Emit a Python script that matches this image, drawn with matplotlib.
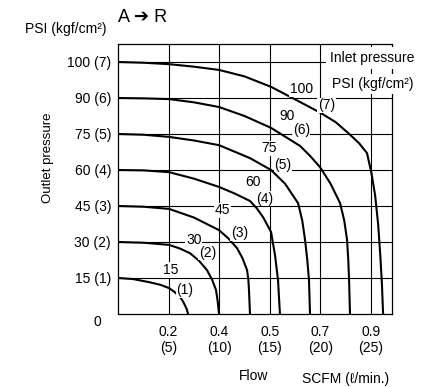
import matplotlib
matplotlib.use("Agg")
import matplotlib.pyplot as plt

plt.rcParams['font.family'] = ['Liberation Sans', 'DejaVu Sans']

# flow in l/min, outlet pressure in kgf/cm2
flow_1 = [0, 1.5, 3.16, 4.2, 5.04, 5.6, 6.13, 6.4, 6.6, 6.8, 6.92]
press_1 = [1.0, 0.97, 0.88, 0.81, 0.72, 0.61, 0.47, 0.36, 0.25, 0.13, 0.0]

flow_2 = [0, 2.5, 5.04, 6.1, 7.11, 8.0, 8.79, 9.3, 9.68, 9.85, 9.98]
press_2 = [2.0, 1.98, 1.92, 1.82, 1.69, 1.48, 1.22, 0.95, 0.67, 0.35, 0.0]

flow_3 = [0, 2.5, 5.04, 7.5, 9.98, 10.9, 11.76, 12.3, 12.75, 12.88, 12.94, 13.04]
press_3 = [3.0, 2.98, 2.92, 2.68, 2.33, 2.1, 1.83, 1.55, 1.22, 0.95, 0.67, 0.0]

flow_4 = [0, 2.5, 5.04, 7.5, 9.98, 11.5, 13.04, 13.7, 14.33, 15.12, 15.51, 15.81, 16.0]
press_4 = [4.0, 3.99, 3.94, 3.76, 3.53, 3.35, 3.14, 2.94, 2.69, 2.28, 1.64, 0.94, 0.0]

flow_5 = [0, 2.5, 5.04, 7.5, 9.98, 13.04, 15.12, 16.5, 17.79, 18.2, 18.48, 18.7, 18.87, 18.97]
press_5 = [5.0, 4.98, 4.92, 4.82, 4.69, 4.33, 4.0, 3.62, 3.08, 2.6, 2.06, 1.5, 0.94, 0.0]

flow_6 = [0, 2.5, 5.04, 7.5, 9.98, 12.5, 15.12, 17.98, 18.95, 19.96, 21.0, 21.94, 22.35, 22.63, 22.75, 22.83, 22.92]
press_6 = [6.0, 5.99, 5.97, 5.88, 5.75, 5.5, 5.17, 4.67, 4.4, 4.08, 3.62, 3.08, 2.6, 2.06, 1.5, 0.94, 0.0]

flow_7 = [0, 2.5, 5.04, 7.5, 9.98, 12.5, 15.12, 17.98, 20.06, 21.5, 22.73, 23.8, 24.6,
          25.05, 25.4, 25.7, 25.92, 26.08, 26.19]
press_7 = [7.0, 6.98, 6.94, 6.87, 6.78, 6.6, 6.31, 5.89, 5.58, 5.33, 5.03, 4.75, 4.47,
           3.9, 3.3, 2.5, 1.6, 0.8, 0.0]

curves = [(flow_1, press_1), (flow_2, press_2), (flow_3, press_3), (flow_4, press_4),
          (flow_5, press_5), (flow_6, press_6), (flow_7, press_7)]

y_ticks = [1, 2, 3, 4, 5, 6, 7]
y_labels = ["15 (1)", "30 (2)", "45 (3)", "60 (4)", "75 (5)", "90 (6)", "100 (7)"]
x_ticks = [5, 10, 15, 20, 25]
x_labels = ["0.2\n(5)", "0.4\n(10)", "0.5\n(15)", "0.7\n(20)", "0.9\n(25)"]

# curve labels: psi text, kgf text, and where they sit (data coords)
psi_labels = ["15", "30", "45", "60", "75", "90", "100"]
kgf_labels = ["(1)", "(2)", "(3)", "(4)", "(5)", "(6)", "(7)"]
psi_pos = [(5.2, 1.22), (7.5, 2.05), (10.3, 2.88), (13.3, 3.68), (14.9, 4.6), (16.7, 5.5), (18.1, 6.25)]
kgf_pos = [(6.6, 0.67), (8.85, 1.7), (12.0, 2.25), (14.5, 3.2), (16.3, 4.15), (18.1, 5.1), (20.6, 5.8)]

W, H = 430, 387
fig = plt.figure(figsize=(4.3, 3.87), dpi=100)
ax = fig.add_axes([118 / W, 1 - 314 / H, 274 / W, 270 / H])

for fx, py in curves:
    ax.plot(fx, py, color='black', lw=1.5, zorder=4, solid_joinstyle='round')

ax.set_xlim(0, 27.07)
ax.set_ylim(0, 7.5)
ax.set_xticks(x_ticks)
ax.set_xticklabels(x_labels, fontsize=10, linespacing=1.15)
ax.set_yticks(y_ticks)
ax.set_yticklabels(y_labels, fontsize=10)
ax.tick_params(length=0, pad=5)
ax.tick_params(axis='x', pad=8)
ax.grid(True, color='black', lw=0.8)
for s in ax.spines.values():
    s.set_linewidth(0.9)

ax.annotate("0", xy=(0, 0), xytext=(-15, -6), textcoords='offset points',
            ha='center', va='center', fontsize=10)

box = dict(facecolor='white', edgecolor='none', pad=0.5)
for t, (x, y) in zip(psi_labels, psi_pos):
    ax.text(x, y, t, fontsize=10, ha='center', va='center', bbox=box, zorder=5)
for t, (x, y) in zip(kgf_labels, kgf_pos):
    ax.text(x, y, t, fontsize=10, ha='center', va='center', bbox=box, zorder=5)

def ftext(px, py, s, **kw):
    fig.text(px / W, 1 - py / H, s, **kw)

ftext(66, 29, "PSI (kgf/cm²)", fontsize=10, ha='center', va='center')
ftext(143, 17, "A ➔ R", fontsize=13, ha='center', va='center')
ftext(48, 158, "Outlet pressure", fontsize=9.5, rotation=90, ha='center', va='center')
ftext(372, 58, "Inlet pressure", fontsize=10, ha='center', va='center',
      bbox=dict(facecolor='white', edgecolor='none', pad=3), zorder=6)
ftext(373, 84, "PSI (kgf/cm²)", fontsize=10, ha='center', va='center',
      bbox=dict(facecolor='white', edgecolor='none', pad=2), zorder=6)
ftext(254, 376, "Flow", fontsize=10, ha='center', va='center')
ftext(346, 379, "SCFM (ℓ/min.)", fontsize=10, ha='center', va='center')

fig.savefig("out.png", dpi=100)
